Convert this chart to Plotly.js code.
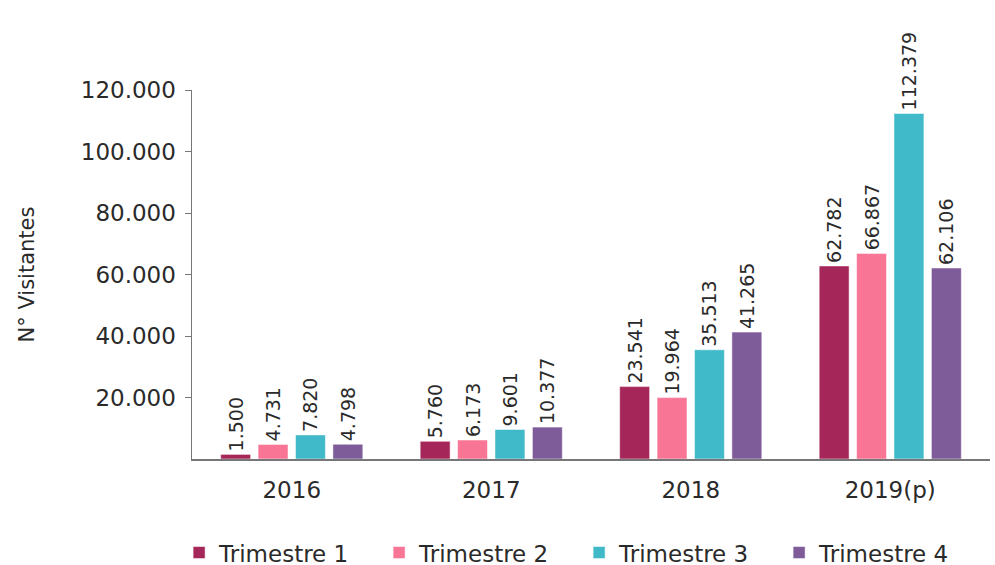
<!DOCTYPE html>
<html><head><meta charset="utf-8">
<script src="https://cdn.plot.ly/plotly-3.0.1.min.js"></script>
<style>html,body{margin:0;padding:0;background:#fff}#c{width:995px;height:565px}</style>
</head><body><div id="c"></div>
<script>
const years = ['2016', '2017', '2018', '2019(p)'];
const seriesNames = ['Trimestre 1', 'Trimestre 2', 'Trimestre 3', 'Trimestre 4'];
const trimestre1 = [1500, 5760, 23541, 62782];
const trimestre2 = [4731, 6173, 19964, 66867];
const trimestre3 = [7820, 9601, 35513, 112379];
const trimestre4 = [4798, 10377, 41265, 62106];
const yTicks = [20000, 40000, 60000, 80000, 100000, 120000];
const colors = ['#A5275A', '#F87596', '#40B9C8', '#7D5C99'];
const allSeries = [trimestre1, trimestre2, trimestre3, trimestre4];
const FONT = '"DejaVu Sans", sans-serif';

const traces = allSeries.map((vals, i) => ({
  type: 'bar', x: years, y: vals, name: seriesNames[i],
  marker: {color: colors[i], line: {color: 'rgba(255,255,255,0.5)', width: 1}},
  texttemplate: '%{y:,d}', textposition: 'outside', textangle: -90,
  constraintext: 'none',
  textfont: {family: FONT, size: 19, color: '#2a2a2a'}, cliponaxis: false,
  hoverinfo: 'skip'
}));

const layout = {
  width: 995, height: 565,
  margin: {l: 192, r: 5, t: 90, b: 106},
  separators: ',.',
  barmode: 'group', bargap: 0.25, bargroupgap: 0.2,
  paper_bgcolor: '#fff', plot_bgcolor: '#fff',
  font: {family: FONT, color: '#2a2a2a'},
  xaxis: {type: 'category', showline: true, linecolor: '#777', linewidth: 1.5, ticks: '',
          tickfont: {size: 23, color: '#2a2a2a'}, showgrid: false, zeroline: false,
          ticklabelstandoff: 10},
  yaxis: {range: [0, 120000], tickvals: yTicks, tickformat: ',d',
          showline: true, linecolor: '#777', linewidth: 1.5,
          ticks: 'outside', ticklen: 6, tickcolor: '#777',
          tickfont: {size: 23, color: '#2a2a2a'}, showgrid: false, zeroline: false,
          ticklabelstandoff: 4,
          title: {text: 'N° Visitantes', font: {size: 21, color: '#2a2a2a'}, standoff: 40}},
  legend: {orientation: 'h', xref: 'container', yref: 'container',
           x: 0.18, xanchor: 'left', y: 0.022, yanchor: 'middle',
           font: {size: 23, color: '#2a2a2a'}, itemwidth: 30, tracegroupgap: 0,
           entrywidth: 155, entrywidthmode: 'pixels'}
};
Plotly.newPlot('c', traces, layout, {staticPlot: true});
</script></body></html>
